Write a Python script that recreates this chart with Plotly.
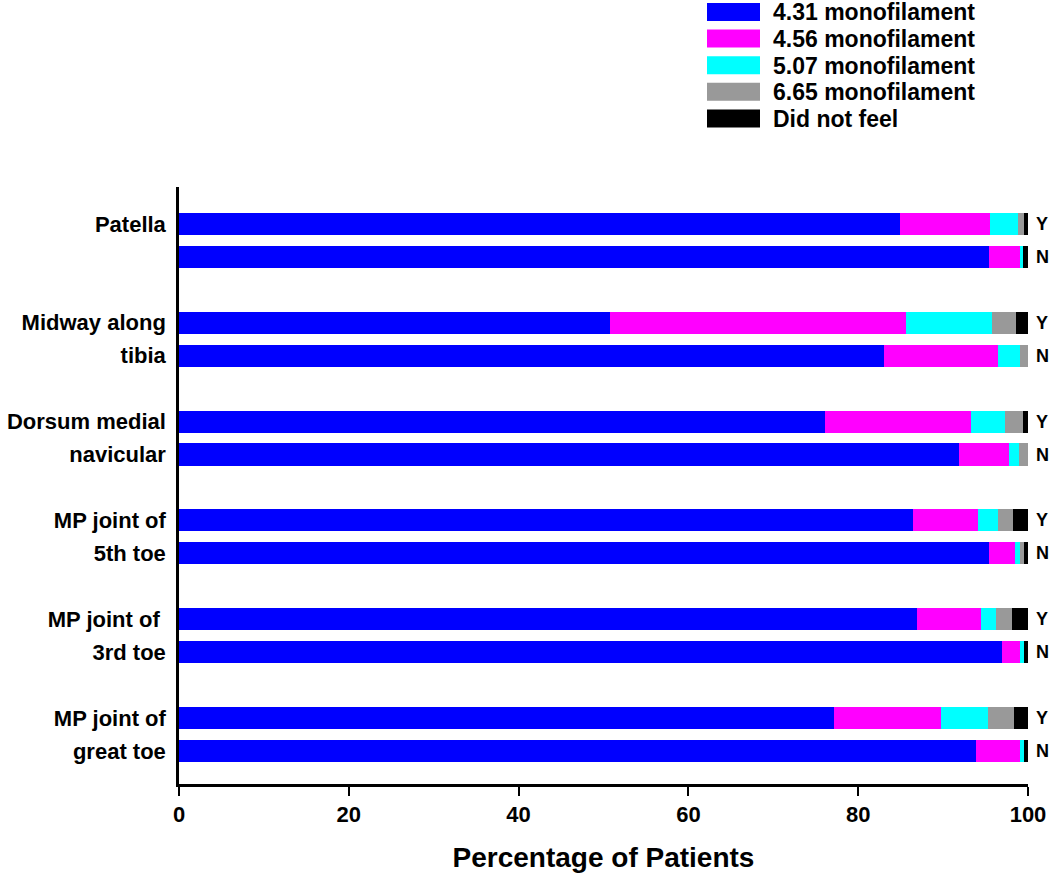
import plotly.graph_objects as go

# Sites from top to bottom; each has a "Y" and an "N" bar
site_line1 = ["Patella", "Midway along", "Dorsum medial", "MP joint of", "MP joint of ", "MP joint of"]
site_line2 = ["", "tibia", "navicular", "5th toe", "3rd toe", "great toe"]
row_labels = ["Y", "N"]

series_names = ["4.31 monofilament", "4.56 monofilament", "5.07 monofilament",
                "6.65 monofilament", "Did not feel"]
series_colors = ["#0000FF", "#FF00FF", "#00FFFF", "#999999", "#000000"]

# Percent values, Y rows (top to bottom sites)
y_431 = [84.9, 50.8, 76.1, 86.5, 86.9, 77.2]
y_456 = [10.6, 34.8, 17.2, 7.6, 7.6, 12.6]
y_507 = [3.3, 10.2, 4.0, 2.4, 1.7, 5.5]
y_665 = [0.7, 2.8, 2.1, 1.7, 1.9, 3.1]
y_dnf = [0.5, 1.4, 0.6, 1.8, 1.9, 1.6]

# Percent values, N rows
n_431 = [95.4, 83.0, 91.9, 95.4, 96.9, 93.9]
n_456 = [3.6, 13.5, 5.9, 3.1, 2.2, 5.2]
n_507 = [0.4, 2.6, 1.1, 0.6, 0.4, 0.4]
n_665 = [0.0, 0.9, 1.1, 0.4, 0.0, 0.0]
n_dnf = [0.6, 0.0, 0.0, 0.5, 0.5, 0.5]

x_ticks = [0, 20, 40, 60, 80, 100]

y_series = [y_431, y_456, y_507, y_665, y_dnf]
n_series = [n_431, n_456, n_507, n_665, n_dnf]

n_sites = len(site_line1)
y_pos = [3 * (n_sites - 1 - i) + 1 for i in range(n_sites)]
n_pos = [3 * (n_sites - 1 - i) for i in range(n_sites)]
positions = y_pos + n_pos

font_family = "Liberation Sans, Arial, sans-serif"

# plot-area geometry in pixels
W, H = 1050, 881
L, R, T, B = 179, 22, 187, 97
PW, PH = W - L - R, H - T - B


def px_x(px):
    return (px - L) / PW


def px_y(py):
    return (H - B - py) / PH


fig = go.Figure()
for name, color, ys, ns in zip(series_names, series_colors, y_series, n_series):
    fig.add_trace(go.Bar(
        x=ys + ns, y=positions, orientation="h", name=name,
        marker=dict(color=color, line=dict(width=0)), width=0.67,
        showlegend=False,
    ))

# Y / N labels at the end of each bar
for lbl, plist in zip(row_labels, [y_pos, n_pos]):
    for p in plist:
        fig.add_annotation(x=100, y=p, xref="x", yref="y", text=lbl, showarrow=False,
                           xanchor="left", xshift=6,
                           font=dict(family=font_family, size=18, color="black", weight="bold"))

# Legend drawn as swatches + text (large rectangular keys as in the original)
for i, (name, color) in enumerate(zip(series_names, series_colors)):
    top = 3 + 26.6 * i
    fig.add_shape(type="rect", xref="paper", yref="paper",
                  x0=px_x(707), x1=px_x(760), y0=px_y(top + 18), y1=px_y(top),
                  fillcolor=color, line=dict(width=0), layer="above")
    fig.add_annotation(xref="paper", yref="paper", x=px_x(771), y=px_y(top + 9.5),
                       text=name, showarrow=False, xanchor="left", yanchor="middle",
                       font=dict(family=font_family, size=23, color="black", weight="bold"))

fig.update_layout(
    width=W, height=H,
    barmode="stack",
    bargap=0,
    showlegend=False,
    plot_bgcolor="white", paper_bgcolor="white",
    margin=dict(l=L, r=R, t=T, b=B, autoexpand=False),
    font=dict(family=font_family, color="black"),
    xaxis=dict(range=[0, 100], tickvals=x_ticks,
               ticks="outside", ticklen=9, tickwidth=2, tickcolor="black",
               showline=True, linecolor="black", linewidth=2.5,
               showgrid=False, zeroline=False,
               tickfont=dict(family=font_family, size=22, color="black", weight="bold"),
               title=dict(text="Percentage of Patients", standoff=22,
                          font=dict(family=font_family, size=28, color="black", weight="bold"))),
    yaxis=dict(range=[-1, 17.12], tickvals=positions,
               ticktext=site_line1 + site_line2,
               ticks="", showline=True, linecolor="black", linewidth=2.5,
               showgrid=False, zeroline=False, ticklabelstandoff=6,
               tickfont=dict(family=font_family, size=22, color="black", weight="bold")),
)

fig.write_html("out.html", config={"displayModeBar": False},
               post_script="document.body.style.margin='0';")
